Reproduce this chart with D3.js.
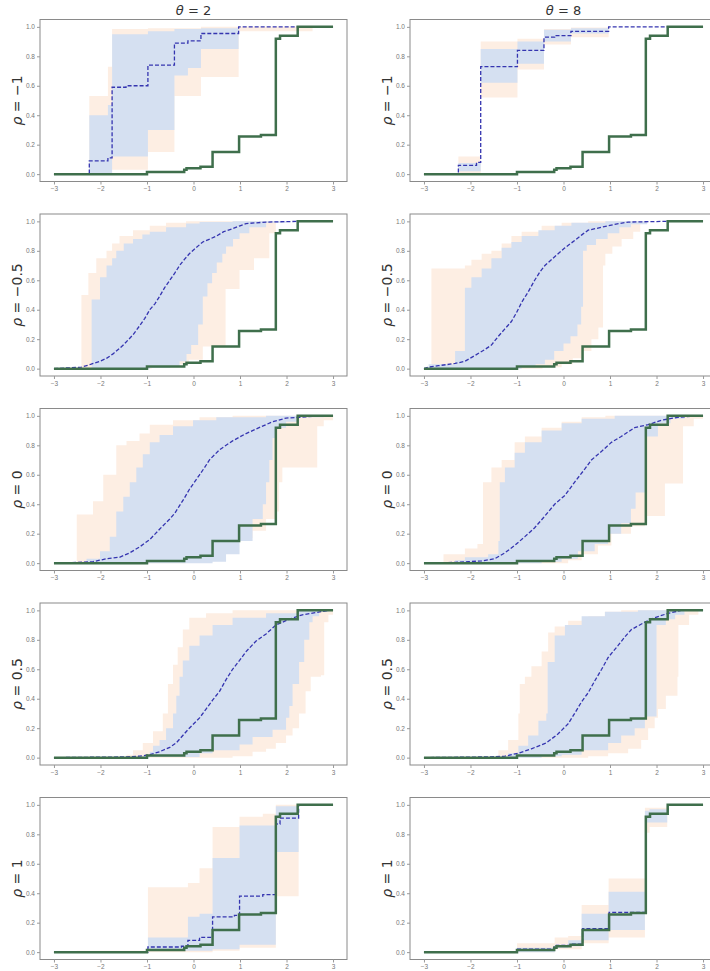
<!DOCTYPE html>
<html><head><meta charset="utf-8">
<script src="https://cdn.jsdelivr.net/npm/d3@7"></script>
<style>body{margin:0;background:#fff}svg{display:block}</style>
</head><body>
<script>
// ---------- labels & ticks ----------
const rhoLabels = ["−1", "−0.5", "0", "0.5", "1"];
const thetaLabels = ["2", "8"];
const xTicks = [-3, -2, -1, 0, 1, 2, 3];
const yTicks = [0, 0.2, 0.4, 0.6, 0.8, 1.0];

// ---------- true CDF (same in every panel) ----------
const trueCdf = [[-3,0],[-1,0.015],[-0.2,0.03],[-0.15,0.04],[0.15,0.05],[0.41,0.15],[0.98,0.255],[1.45,0.265],[1.77,0.92],[1.86,0.94],[2.24,1.0],[3,1.0]];

// ---------- rho = -1, theta = 2 ----------
const mean_r0c0 = [[-3,0],[-2.24,0.09],[-1.84,0.11],[-1.75,0.59],[-1.45,0.6],[-0.98,0.74],[-0.41,0.89],[-0.12,0.905],[0.16,0.955],[0.97,1.0],[3,1.0]];
const blueLo_r0c0 = [[-3,0],[-1.75,0.12],[-0.98,0.30],[-0.41,0.67],[-0.12,0.72],[0.16,0.85],[0.97,1.0],[3,1.0]];
const blueHi_r0c0 = [[-3,0],[-2.24,0.40],[-1.84,0.47],[-1.75,0.95],[-0.98,0.97],[-0.41,0.985],[0.16,0.99],[0.97,1.0],[3,1.0]];
const orLo_r0c0 = [[-3,0],[-1.75,0.03],[-0.98,0.15],[-0.41,0.53],[0.16,0.66],[0.97,0.97],[2.56,1.0],[3,1.0]];
const orHi_r0c0 = [[-3,0],[-2.24,0.53],[-1.84,0.73],[-1.75,0.985],[-0.98,0.99],[0.16,1.0],[3,1.0]];

// ---------- rho = -1, theta = 8 ----------
const mean_r0c1 = [[-3,0],[-2.26,0.06],[-1.87,0.08],[-1.78,0.73],[-0.99,0.84],[-0.42,0.93],[-0.19,0.94],[0.16,0.97],[0.97,1.0],[3,1.0]];
const blueLo_r0c1 = [[-3,0],[-2.26,0.02],[-1.78,0.62],[-0.99,0.75],[-0.42,0.9],[0.16,0.955],[0.97,1.0],[3,1.0]];
const blueHi_r0c1 = [[-3,0],[-2.26,0.075],[-1.78,0.85],[-0.99,0.9],[-0.42,0.98],[0.16,0.99],[0.97,1.0],[3,1.0]];
const orLo_r0c1 = [[-3,0],[-1.78,0.52],[-0.99,0.71],[-0.42,0.88],[0.16,0.93],[0.97,1.0],[3,1.0]];
const orHi_r0c1 = [[-3,0],[-2.26,0.12],[-1.78,0.90],[-0.99,0.92],[-0.42,0.985],[0.16,0.995],[0.97,1.0],[3,1.0]];

// ---------- rho = -0.5, theta = 2 ----------
const mean_r1c0 = [[-3,0],[-2.41,0.01],[-2.2,0.03],[-2.01,0.05],[-1.87,0.07],[-1.73,0.1],[-1.51,0.16],[-1.3,0.23],[-1.16,0.29],[-1.05,0.34],[-0.94,0.4],[-0.83,0.44],[-0.73,0.49],[-0.62,0.55],[-0.51,0.6],[-0.4,0.65],[-0.3,0.7],[-0.2,0.74],[-0.09,0.78],[0.05,0.82],[0.2,0.86],[0.35,0.88],[0.49,0.9],[0.65,0.93],[0.84,0.95],[1.0,0.97],[1.13,0.985],[1.56,0.995],[2.24,1.0],[3,1.0]];
const blueLo_r1c0 = [[-3,0],[-0.94,0.005],[-0.5,0.02],[-0.3,0.05],[-0.15,0.1],[-0.05,0.16],[0.1,0.3],[0.2,0.49],[0.3,0.58],[0.4,0.65],[0.5,0.72],[0.62,0.78],[0.7,0.83],[0.85,0.88],[0.99,0.92],[1.2,0.96],[1.56,0.99],[2.0,1.0],[3,1.0]];
const blueHi_r1c0 = [[-3,0],[-2.19,0.47],[-2.01,0.62],[-1.87,0.7],[-1.75,0.75],[-1.66,0.8],[-1.5,0.85],[-1.3,0.88],[-1.1,0.91],[-0.94,0.93],[-0.59,0.96],[-0.16,0.985],[0.13,0.995],[0.84,1.0],[3,1.0]];
const orLo_r1c0 = [[-3,0],[-0.9,0.01],[-0.3,0.03],[-0.1,0.06],[0.2,0.15],[0.69,0.54],[0.99,0.67],[1.3,0.75],[1.63,0.92],[1.77,1.0],[3,1.0]];
const orHi_r1c0 = [[-3,0],[-2.41,0.5],[-2.26,0.65],[-2.09,0.75],[-1.87,0.8],[-1.75,0.85],[-1.59,0.9],[-1.3,0.94],[-0.94,0.97],[-0.59,0.99],[-0.16,1.0],[3,1.0]];

// ---------- rho = -0.5, theta = 8 ----------
const mean_r1c1 = [[-3,0],[-2.9,0.01],[-2.69,0.02],[-2.33,0.035],[-2.12,0.05],[-1.9,0.09],[-1.69,0.13],[-1.55,0.16],[-1.4,0.22],[-1.26,0.27],[-1.12,0.32],[-1.01,0.38],[-0.9,0.45],[-0.76,0.52],[-0.62,0.6],[-0.5,0.66],[-0.4,0.7],[-0.19,0.76],[0.03,0.82],[0.24,0.87],[0.4,0.91],[0.53,0.94],[0.82,0.96],[1.1,0.98],[1.39,0.995],[2.18,1.0],[3,1.0]];
const blueLo_r1c1 = [[-3,0],[-0.9,0.01],[-0.6,0.03],[-0.4,0.06],[-0.2,0.12],[0.0,0.17],[0.15,0.22],[0.3,0.3],[0.38,0.42],[0.42,0.8],[0.5,0.84],[0.7,0.88],[0.95,0.92],[1.2,0.96],[1.45,0.98],[1.8,1.0],[3,1.0]];
const blueHi_r1c1 = [[-3,0],[-2.9,0.03],[-2.33,0.12],[-2.12,0.55],[-1.98,0.62],[-1.76,0.68],[-1.55,0.75],[-1.33,0.82],[-1.12,0.86],[-0.9,0.9],[-0.54,0.94],[-0.19,0.97],[0.17,0.99],[0.9,1.0],[3,1.0]];
const orLo_r1c1 = [[-3,0],[-0.45,0.01],[-0.04,0.03],[0.2,0.07],[0.4,0.12],[0.6,0.2],[0.75,0.28],[0.85,0.7],[0.9,0.78],[1.05,0.83],[1.25,0.88],[1.5,0.93],[1.65,1.0],[3,1.0]];
const orHi_r1c1 = [[-3,0],[-2.84,0.68],[-2.12,0.7],[-1.98,0.74],[-1.76,0.78],[-1.55,0.8],[-1.33,0.85],[-1.12,0.9],[-0.9,0.93],[-0.47,0.97],[-0.04,0.99],[0.53,1.0],[3,1.0]];

// ---------- rho = 0, theta = 2 ----------
const mean_r2c0 = [[-3,0],[-2.51,0.005],[-2.16,0.01],[-2.01,0.02],[-1.87,0.03],[-1.59,0.04],[-1.37,0.07],[-1.16,0.11],[-0.94,0.16],[-0.73,0.23],[-0.51,0.3],[-0.4,0.34],[-0.3,0.39],[-0.2,0.44],[-0.09,0.5],[0.02,0.55],[0.13,0.6],[0.24,0.65],[0.34,0.7],[0.56,0.77],[0.84,0.83],[1.13,0.88],[1.41,0.92],[1.7,0.96],[1.99,0.985],[2.27,0.99],[2.7,1.0],[3,1.0]];
const blueLo_r2c0 = [[-3,0],[0.41,0.01],[0.7,0.06],[0.99,0.15],[1.27,0.3],[1.49,0.4],[1.56,0.55],[1.63,0.7],[1.7,0.85],[1.77,0.92],[1.99,0.96],[2.27,0.99],[2.8,1.0],[3,1.0]];
const blueHi_r2c0 = [[-3,0],[-2.3,0.03],[-2.01,0.08],[-1.8,0.18],[-1.66,0.35],[-1.51,0.45],[-1.37,0.55],[-1.23,0.65],[-1.09,0.74],[-0.94,0.82],[-0.73,0.87],[-0.44,0.93],[-0.01,0.97],[0.49,0.99],[1.56,1.0],[3,1.0]];
const orLo_r2c0 = [[-3,0],[-0.16,0.01],[0.27,0.03],[0.63,0.1],[0.84,0.17],[1.27,0.22],[1.56,0.3],[1.77,0.35],[1.84,0.55],[1.91,0.65],[2.66,0.93],[2.8,0.97],[3,1.0]];
const orHi_r2c0 = [[-3,0],[-2.51,0.33],[-2.16,0.42],[-1.94,0.6],[-1.66,0.8],[-1.44,0.83],[-1.16,0.88],[-0.94,0.94],[-0.44,0.97],[0.13,0.99],[0.84,1.0],[3,1.0]];

// ---------- rho = 0, theta = 8 ----------
const mean_r2c1 = [[-3,0],[-2.33,0.005],[-2.05,0.01],[-1.76,0.015],[-1.48,0.03],[-1.26,0.07],[-1.05,0.12],[-0.83,0.18],[-0.62,0.24],[-0.4,0.32],[-0.19,0.4],[0.03,0.46],[0.24,0.55],[0.46,0.64],[0.6,0.7],[0.82,0.76],[1.03,0.82],[1.24,0.86],[1.53,0.92],[1.82,0.94],[2.1,0.97],[2.46,0.99],[2.9,1.0],[3,1.0]];
const blueLo_r2c1 = [[-3,0],[-0.47,0.01],[-0.04,0.03],[0.31,0.08],[0.67,0.13],[0.96,0.2],[1.24,0.27],[1.45,0.37],[1.55,0.48],[1.75,0.86],[2.03,0.95],[2.3,0.98],[2.6,1.0],[3,1.0]];
const blueHi_r2c1 = [[-3,0],[-2.33,0.02],[-2.12,0.04],[-1.62,0.06],[-1.4,0.15],[-1.37,0.55],[-1.26,0.65],[-1.05,0.75],[-0.83,0.82],[-0.47,0.9],[-0.04,0.95],[0.39,0.98],[1.1,1.0],[3,1.0]];
const orLo_r2c1 = [[-3,0],[0.1,0.02],[0.39,0.06],[0.74,0.12],[1.03,0.2],[1.45,0.25],[1.75,0.32],[2.18,0.54],[2.57,0.93],[2.8,0.98],[3,1.0]];
const orHi_r2c1 = [[-3,0],[-2.58,0.06],[-2.12,0.1],[-1.85,0.13],[-1.73,0.55],[-1.55,0.65],[-1.33,0.7],[-1.05,0.82],[-0.83,0.86],[-0.47,0.92],[-0.04,0.96],[0.39,0.99],[0.9,1.0],[3,1.0]];

// ---------- rho = 0.5, theta = 2 ----------
const mean_r3c0 = [[-3,0],[-1.44,0.005],[-1.16,0.01],[-0.94,0.02],[-0.73,0.04],[-0.51,0.07],[-0.37,0.1],[-0.23,0.15],[-0.09,0.2],[0.13,0.27],[0.27,0.33],[0.41,0.39],[0.56,0.45],[0.7,0.53],[0.84,0.6],[0.99,0.66],[1.13,0.72],[1.34,0.79],[1.56,0.84],[1.77,0.9],[2.06,0.94],[2.34,0.97],[2.63,0.985],[2.9,1.0],[3,1.0]];
const blueLo_r3c0 = [[-3,0],[-0.94,0.005],[0.13,0.03],[0.41,0.05],[0.99,0.09],[1.27,0.14],[1.7,0.19],[1.99,0.27],[2.06,0.35],[2.13,0.5],[2.27,0.65],[2.38,0.8],[2.49,0.92],[2.56,0.96],[2.7,0.99],[2.9,1.0],[3,1.0]];
const blueHi_r3c0 = [[-3,0],[-1.44,0.005],[-1.16,0.01],[-0.94,0.04],[-0.87,0.08],[-0.73,0.12],[-0.59,0.2],[-0.44,0.3],[-0.37,0.42],[-0.3,0.55],[-0.23,0.66],[-0.09,0.76],[0.13,0.83],[0.41,0.9],[0.84,0.95],[1.56,0.98],[2.27,1.0],[3,1.0]];
const orLo_r3c0 = [[-3,0],[0.84,0.01],[1.27,0.04],[1.56,0.06],[1.77,0.1],[1.99,0.15],[2.13,0.2],[2.27,0.3],[2.41,0.45],[2.52,0.55],[2.74,0.56],[2.81,0.92],[2.9,0.97],[3,1.0]];
const orHi_r3c0 = [[-3,0],[-2.01,0.005],[-1.44,0.02],[-1.3,0.05],[-1.09,0.1],[-0.87,0.18],[-0.66,0.3],[-0.55,0.5],[-0.44,0.63],[-0.34,0.75],[-0.23,0.87],[-0.09,0.95],[0.27,0.98],[0.84,1.0],[3,1.0]];

// ---------- rho = 0.5, theta = 8 ----------
const mean_r3c1 = [[-3,0],[-1.62,0.005],[-1.26,0.01],[-0.97,0.03],[-0.69,0.06],[-0.37,0.1],[-0.12,0.16],[0.1,0.23],[0.24,0.3],[0.39,0.38],[0.53,0.44],[0.67,0.52],[0.82,0.6],[0.96,0.68],[1.17,0.76],[1.32,0.82],[1.46,0.87],[1.75,0.92],[1.96,0.95],[2.25,0.98],[2.53,1.0],[3,1.0]];
const blueLo_r3c1 = [[-3,0],[-0.47,0.01],[-0.04,0.02],[0.39,0.05],[0.96,0.1],[1.24,0.15],[1.53,0.2],[1.75,0.28],[2.0,0.9],[2.2,0.94],[2.4,0.97],[2.6,1.0],[3,1.0]];
const blueHi_r3c1 = [[-3,0],[-1.48,0.01],[-1.19,0.03],[-0.97,0.08],[-0.76,0.15],[-0.54,0.25],[-0.37,0.3],[-0.34,0.65],[-0.19,0.83],[0.03,0.9],[0.39,0.96],[0.89,0.99],[1.6,1.0],[3,1.0]];
const orLo_r3c1 = [[-3,0],[0.53,0.01],[0.96,0.03],[1.39,0.06],[1.67,0.12],[1.82,0.2],[1.96,0.27],[2.03,0.33],[2.2,0.42],[2.45,0.55],[2.47,0.9],[2.7,0.97],[2.9,1.0],[3,1.0]];
const orHi_r3c1 = [[-3,0],[-1.98,0.005],[-1.4,0.05],[-1.19,0.12],[-0.97,0.3],[-0.94,0.5],[-0.83,0.55],[-0.69,0.62],[-0.47,0.72],[-0.33,0.85],[-0.19,0.89],[0.1,0.93],[0.53,0.96],[0.89,0.99],[1.24,1.0],[3,1.0]];

// ---------- rho = 1, theta = 2 ----------
const mean_r4c0 = [[-3,0],[-0.98,0.035],[-0.26,0.04],[-0.12,0.08],[0.13,0.1],[0.41,0.24],[0.88,0.25],[0.99,0.38],[1.49,0.39],[1.77,0.87],[1.86,0.91],[2.26,1.0],[3,1.0]];
const blueLo_r4c0 = [[-3,0],[-0.98,0.01],[0.41,0.02],[0.99,0.05],[1.77,0.68],[2.26,1.0],[3,1.0]];
const blueHi_r4c0 = [[-3,0],[-0.98,0.1],[-0.12,0.24],[0.13,0.26],[0.41,0.64],[0.99,0.86],[1.77,0.99],[2.26,1.0],[3,1.0]];
const orLo_r4c0 = [[-3,0],[0.41,0.01],[0.99,0.03],[1.77,0.38],[2.26,1.0],[3,1.0]];
const orHi_r4c0 = [[-3,0],[-2.51,0.01],[-0.98,0.44],[-0.12,0.47],[0.13,0.57],[0.41,0.85],[0.99,0.92],[1.49,0.94],[1.77,1.0],[3,1.0]];

// ---------- rho = 1, theta = 8 ----------
const mean_r4c1 = [[-3,0],[-1,0.02],[-0.2,0.035],[-0.15,0.045],[0.15,0.055],[0.41,0.16],[0.98,0.27],[1.45,0.27],[1.77,0.92],[1.86,0.935],[2.24,1.0],[3,1.0]];
const blueLo_r4c1 = [[-3,0],[-0.19,0.03],[0.1,0.04],[0.39,0.08],[0.97,0.15],[1.75,0.88],[2.23,1.0],[3,1.0]];
const blueHi_r4c1 = [[-3,0],[-1,0.03],[-0.19,0.05],[0.1,0.08],[0.39,0.26],[0.97,0.41],[1.75,0.96],[1.85,0.97],[2.23,1.0],[3,1.0]];
const orLo_r4c1 = [[-3,0],[-0.19,0.02],[0.39,0.06],[0.97,0.1],[1.75,0.81],[1.85,0.85],[2.23,1.0],[3,1.0]];
const orHi_r4c1 = [[-3,0],[-1,0.06],[-0.19,0.1],[0.1,0.11],[0.39,0.32],[0.97,0.5],[1.75,0.98],[2.23,1.0],[3,1.0]];

// rows whose mean curve is made of many tiny steps (drawn as a smooth dashed curve)
const smoothMeanRows = [1, 2, 3];

const panels = [
  [ {mean: mean_r0c0, bLo: blueLo_r0c0, bHi: blueHi_r0c0, oLo: orLo_r0c0, oHi: orHi_r0c0},
    {mean: mean_r0c1, bLo: blueLo_r0c1, bHi: blueHi_r0c1, oLo: orLo_r0c1, oHi: orHi_r0c1} ],
  [ {mean: mean_r1c0, bLo: blueLo_r1c0, bHi: blueHi_r1c0, oLo: orLo_r1c0, oHi: orHi_r1c0},
    {mean: mean_r1c1, bLo: blueLo_r1c1, bHi: blueHi_r1c1, oLo: orLo_r1c1, oHi: orHi_r1c1} ],
  [ {mean: mean_r2c0, bLo: blueLo_r2c0, bHi: blueHi_r2c0, oLo: orLo_r2c0, oHi: orHi_r2c0},
    {mean: mean_r2c1, bLo: blueLo_r2c1, bHi: blueHi_r2c1, oLo: orLo_r2c1, oHi: orHi_r2c1} ],
  [ {mean: mean_r3c0, bLo: blueLo_r3c0, bHi: blueHi_r3c0, oLo: orLo_r3c0, oHi: orHi_r3c0},
    {mean: mean_r3c1, bLo: blueLo_r3c1, bHi: blueHi_r3c1, oLo: orLo_r3c1, oHi: orHi_r3c1} ],
  [ {mean: mean_r4c0, bLo: blueLo_r4c0, bHi: blueHi_r4c0, oLo: orLo_r4c0, oHi: orHi_r4c0},
    {mean: mean_r4c1, bLo: blueLo_r4c1, bHi: blueHi_r4c1, oLo: orLo_r4c1, oHi: orHi_r4c1} ]
];

// ---------- drawing ----------
const W = 710, H = 971;
const colX = [40, 410], panelW = 307;
const rowTop0 = 19.5, rowStep = 194.5, panelH = 162;

const svg = d3.select("body").append("svg").attr("width", W).attr("height", H)
  .style("font-family", "'DejaVu Sans', sans-serif");

function stepVal(arr, x) {
  let v = arr[0][1];
  for (const p of arr) { if (p[0] <= x + 1e-9) v = p[1]; else break; }
  return v;
}
function bandData(lo, hi) {
  const xs = Array.from(new Set(lo.map(d => d[0]).concat(hi.map(d => d[0])))).sort((a, b) => a - b);
  return xs.map(x => { const a = stepVal(lo, x), b = stepVal(hi, x); return {x, lo: Math.min(a, b), hi: Math.max(a, b)}; });
}

panels.forEach((row, r) => {
  row.forEach((p, c) => {
    const top = rowTop0 + r * rowStep;
    const x = d3.scaleLinear().domain([-3.3, 3.3]).range([colX[c], colX[c] + panelW]);
    const y = d3.scaleLinear().domain([-0.05, 1.05]).range([top + panelH, top]);
    const g = svg.append("g");

    const area = d3.area().curve(d3.curveStepAfter).x(d => x(d.x)).y0(d => y(d.lo)).y1(d => y(d.hi));
    g.append("path").attr("d", area(bandData(p.oLo, p.oHi))).attr("fill", "#fdeee3");
    g.append("path").attr("d", area(bandData(p.bLo, p.bHi))).attr("fill", "#d5e0f1");

    const meanCurve = smoothMeanRows.includes(r) ? d3.curveLinear : d3.curveStepAfter;
    const meanLine = d3.line().curve(meanCurve).x(d => x(d[0])).y(d => y(d[1]));
    g.append("path").attr("d", meanLine(p.mean)).attr("fill", "none")
      .attr("stroke", "#3535b0").attr("stroke-width", 1.3).attr("stroke-dasharray", "4,2");

    const line = d3.line().curve(d3.curveStepAfter).x(d => x(d[0])).y(d => y(d[1]));
    g.append("path").attr("d", line(trueCdf)).attr("fill", "none")
      .attr("stroke", "#3f6f4c").attr("stroke-width", 2.5).attr("stroke-linejoin", "miter");

    // frame
    g.append("rect").attr("x", colX[c]).attr("y", top).attr("width", panelW).attr("height", panelH)
      .attr("fill", "none").attr("stroke", "#8a8a8a").attr("stroke-width", 1);

    // axes
    const xa = g.append("g").attr("transform", `translate(0,${top + panelH})`)
      .call(d3.axisBottom(x).tickValues(xTicks).tickSize(3).tickPadding(2).tickFormat(d => d3.format("")(d).replace("-", "−")));
    const ya = g.append("g").attr("transform", `translate(${colX[c]},0)`)
      .call(d3.axisLeft(y).tickValues(yTicks).tickSize(3).tickPadding(2).tickFormat(d3.format(".1f")));
    [xa, ya].forEach(a => {
      a.select(".domain").remove();
      a.selectAll("line").attr("stroke", "#999");
      a.selectAll("text").attr("fill", "#777").style("font-size", "6.5px");
    });

    // row label
    const lx = colX[c] - 18, ly = top + panelH / 2;
    const t = g.append("text").attr("transform", `translate(${lx},${ly}) rotate(-90)`)
      .attr("text-anchor", "middle").attr("fill", "#333").style("font-size", "14px");
    t.append("tspan").style("font-style", "italic").text("ρ");
    t.append("tspan").text(" = " + rhoLabels[r]);

    if (r === 0) {
      const tt = svg.append("text").attr("x", colX[c] + panelW / 2).attr("y", 15)
        .attr("text-anchor", "middle").attr("fill", "#333").style("font-size", "13px");
      tt.append("tspan").style("font-style", "italic").text("θ");
      tt.append("tspan").text(" = " + thetaLabels[c]);
    }
  });
});
</script>
</body></html>
